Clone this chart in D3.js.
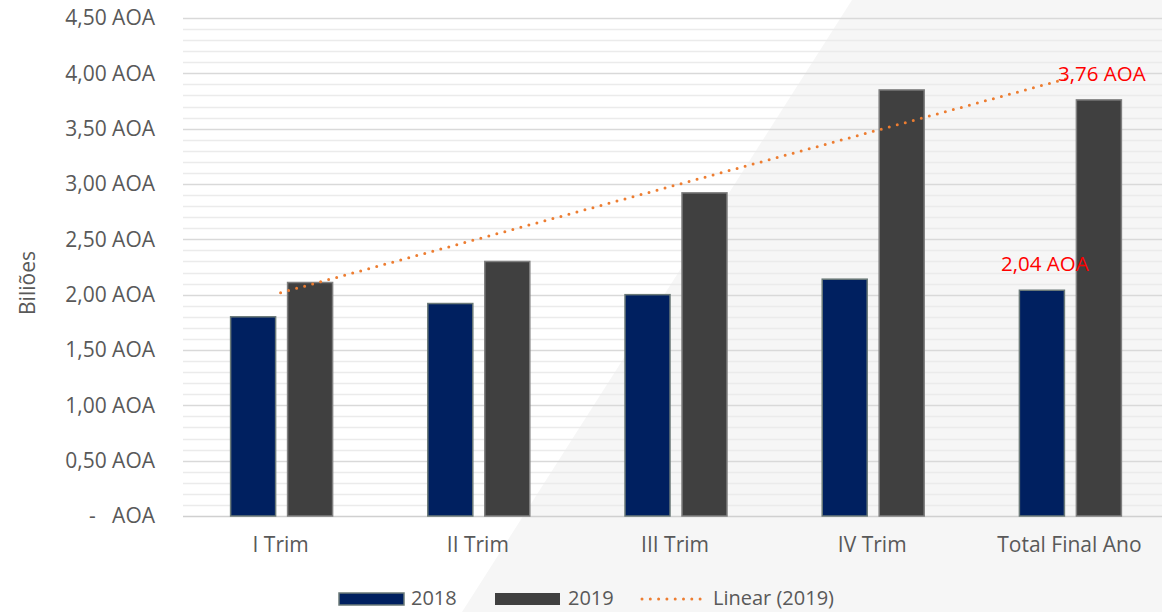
<!DOCTYPE html>
<html>
<head>
<meta charset="utf-8">
<script src="https://cdn.jsdelivr.net/npm/d3@7"></script>
<style>
  html, body { margin: 0; padding: 0; background: #fff; }
  svg { display: block; }
  text { font-family: "Open Sans", "Liberation Sans", sans-serif; }
</style>
</head>
<body>
<svg id="chart" width="1162" height="612"></svg>
<script>
const categories = ["I Trim", "II Trim", "III Trim", "IV Trim", "Total Final Ano"];
const seriesNames = ["2018", "2019"];
const values2018 = [1.80, 1.92, 2.00, 2.14, 2.04];
const values2019 = [2.11, 2.30, 2.92, 3.85, 3.76];
const yTicks = [0, 0.5, 1.0, 1.5, 2.0, 2.5, 3.0, 3.5, 4.0, 4.5];
const minorTicks = d3.range(0, 4.5001, 0.1);
const trendLabel = "Linear (2019)";
const yTitle = "Biliões";
const dataLabels = [{series: "2018", cat: "Total Final Ano", value: 2.04}, {series: "2019", cat: "Total Final Ano", value: 3.76}];

const colors = {"2018": "#002060", "2019": "#404040"};
const strokes = {"2018": "#6b7a78", "2019": "#7f7f7f"};

const svg = d3.select("#chart");

// background diagonal band
svg.append("polygon")
  .attr("points", "852,0 1162,0 1162,612 462,612")
  .attr("fill", "#f6f6f6");

const plotLeft = 182, plotRight = 1168, plotTop = 18, plotBottom = 516;
const x0 = d3.scaleBand().domain(categories).range([plotLeft, plotRight]);
const x1 = d3.scaleBand().domain(seriesNames).range([0, 102]).paddingInner(0.21);
const y = d3.scaleLinear().domain([0, 4.5]).range([plotBottom, plotTop]);

const fmt = v => v === 0 ? "-   AOA" : d3.format(".2f")(v).replace(".", ",") + " AOA";

// minor gridlines
svg.append("g").selectAll("line").data(minorTicks.filter(t => Math.abs(t*2 - Math.round(t*2)) > 1e-6))
  .join("line")
  .attr("x1", 183).attr("x2", 1162)
  .attr("y1", d => Math.round(y(d)) + 0.5).attr("y2", d => Math.round(y(d)) + 0.5)
  .attr("stroke", "#ebebeb").attr("stroke-width", 1.5);

// major gridlines
svg.append("g").selectAll("line").data(yTicks)
  .join("line")
  .attr("x1", 183).attr("x2", 1162)
  .attr("y1", d => Math.round(y(d)) + 0.5).attr("y2", d => Math.round(y(d)) + 0.5)
  .attr("stroke", d => d === 0 ? "#d0d0d0" : "#d9d9d9").attr("stroke-width", 1.5);

// y axis labels
const yAxis = d3.axisLeft(y).tickValues(yTicks).tickFormat(fmt).tickSize(0).tickPadding(0);
const yg = svg.append("g").attr("transform", "translate(155,0)").call(yAxis);
yg.select(".domain").remove();
yg.selectAll("text").attr("fill", "#595959").style("font-size", "21px").style("white-space", "pre").attr("xml:space", "preserve");

// y title
svg.append("text")
  .attr("transform", "translate(35,283) rotate(-90)")
  .attr("text-anchor", "middle")
  .attr("fill", "#595959").style("font-size", "21px")
  .text(yTitle);

// x axis labels
const xAxis = d3.axisBottom(x0).tickSize(0).tickPadding(0);
const xg = svg.append("g").attr("transform", "translate(0,537)").call(xAxis);
xg.select(".domain").remove();
xg.selectAll("text").attr("fill", "#595959").style("font-size", "21px").attr("dy", "0.71em");

// bars
const rows = categories.map((c, i) => ({cat: c, "2018": values2018[i], "2019": values2019[i]}));
const gx = c => x0(c) + x0.bandwidth() / 2 - 50;
const groups = svg.append("g").selectAll("g").data(rows).join("g")
  .attr("transform", d => `translate(${gx(d.cat)},0)`);
groups.selectAll("rect").data(d => seriesNames.map(s => ({s, v: d[s]})))
  .join("rect")
  .attr("x", d => x1(d.s))
  .attr("y", d => y(d.v))
  .attr("width", x1.bandwidth())
  .attr("height", d => y(0) - y(d.v))
  .attr("fill", d => colors[d.s])
  .attr("stroke", d => strokes[d.s])
  .attr("stroke-width", 1.5);

// linear trendline for 2019 (least squares)
const xs = values2019.map((_, i) => i + 1);
const mx = d3.mean(xs), my = d3.mean(values2019);
const slope = d3.sum(xs, (xv, i) => (xv - mx) * (values2019[i] - my)) / d3.sum(xs, xv => (xv - mx) ** 2);
const icpt = my - slope * mx;
const cx = c => x0(c) + x0.bandwidth() / 2;
const trendPts = [categories[0], categories[categories.length - 1]].map((c) => {
  const idx = categories.indexOf(c) + 1;
  return [cx(c), y(icpt + slope * idx)];
});
svg.append("path")
  .attr("d", d3.line()(trendPts))
  .attr("fill", "none")
  .attr("stroke", "#ED7D31")
  .attr("stroke-width", 3)
  .attr("stroke-linecap", "round")
  .attr("stroke-dasharray", "0,8.3");

// data labels
svg.append("g").selectAll("text").data(dataLabels).join("text")
  .attr("x", d => gx(d.cat) + x1(d.series) + x1.bandwidth() / 2 + 3)
  .attr("y", d => y(d.value) - 19)
  .attr("text-anchor", "middle")
  .attr("fill", "#ff0000")
  .style("font-size", "20.5px")
  .text(d => fmt(d.value));

// legend
const leg = svg.append("g");
const legItems = [
  {type: "rect", key: "2018", sx: 339, tx: 411},
  {type: "rect", key: "2019", sx: 495, tx: 568},
  {type: "line", key: trendLabel, sx: 640, tx: 713}
];
legItems.forEach(it => {
  if (it.type === "rect") {
    leg.append("rect").attr("x", it.sx).attr("y", 593).attr("width", 65).attr("height", 12)
      .attr("fill", colors[it.key]).attr("stroke", it.key === "2018" ? strokes[it.key] : "none").attr("stroke-width", 1.5);
  } else {
    leg.append("line").attr("x1", it.sx + 2).attr("x2", it.sx + 62).attr("y1", 599).attr("y2", 599)
      .attr("stroke", "#ED7D31").attr("stroke-width", 3).attr("stroke-linecap", "round").attr("stroke-dasharray", "0,8.3");
  }
  leg.append("text").attr("x", it.tx).attr("y", 605).attr("fill", "#595959").style("font-size", "20px").text(it.key);
});
</script>
</body>
</html>
